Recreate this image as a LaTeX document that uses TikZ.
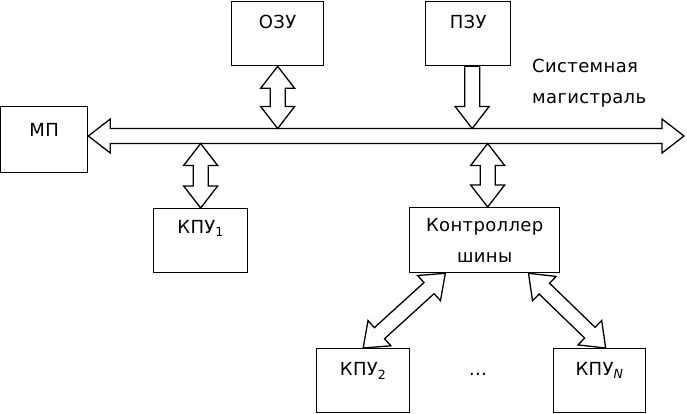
\documentclass[tikz,border=0pt]{standalone}
\usepackage{fontspec}
\setmainfont{DejaVu Sans}[LetterSpace=2]
\usepackage{tikz}
\usetikzlibrary{calc,positioning}
\newcommand{\ahl}{22pt}
\newcommand{\ahw}{17pt}
\newcommand{\asw}{7.5pt}
\tikzset{
  blk/.style={draw,line width=1.3pt,inner sep=0pt,anchor=north west,minimum width=92pt,text height=27pt,text depth=37pt,font=\fontsize{18}{31}\selectfont},
  fat/.style={draw,line width=1.3pt,fill=white,line join=miter},
  txt/.style={inner sep=0pt,font=\fontsize{18}{31}\selectfont}
}
% hollow two-headed arrow between two points
\newcommand{\dblarr}[2]{%
  \coordinate (p1) at ($(#1)!\ahl!(#2)$);
  \coordinate (p2) at ($(#2)!\ahl!(#1)$);
  \draw[fat] (#1) -- ($(p1)!\ahw!90:(#2)$) -- ($(p1)!\asw!90:(#2)$) -- ($(p2)!\asw!-90:(#1)$) -- ($(p2)!\ahw!-90:(#1)$)
    -- (#2) -- ($(p2)!\ahw!90:(#1)$) -- ($(p2)!\asw!90:(#1)$) -- ($(p1)!\asw!-90:(#2)$) -- ($(p1)!\ahw!-90:(#2)$) -- cycle;}
% hollow one-headed arrow, tip at #2
\newcommand{\onearr}[2]{%
  \coordinate (p2) at ($(#2)!\ahl!(#1)$);
  \draw[fat] ($(#1)!\asw!90:(#2)$) -- ($(p2)!\asw!-90:(#1)$) -- ($(p2)!\ahw!-90:(#1)$) -- (#2)
    -- ($(p2)!\ahw!90:(#1)$) -- ($(p2)!\asw!90:(#1)$) -- ($(#1)!\asw!-90:(#2)$) -- cycle;}

\begin{document}
\begin{tikzpicture}[x=1pt,y=-1pt]
\useasboundingbox (0,0) rectangle (687,413);
% blocks
\node[blk,minimum width=87pt,text height=30pt,text depth=36pt] (mp) at (0,106) {МП};
\node[blk] (ozu) at (231,1) {ОЗУ};
\node[blk,minimum width=85pt] (pzu) at (425,1) {ПЗУ};
\node[blk,minimum width=94pt,text height=25pt,text depth=39pt] (kpu1) at (153,208) {КПУ\textsubscript{1}};
\node[draw,line width=1.3pt,anchor=north west,minimum width=150pt,minimum height=65pt,align=center,txt] (ctrl) at (409,207) {Контроллер\\шины};
\node[blk,minimum width=93pt] (kpu2) at (316,348) {КПУ\textsubscript{2}};
\node[blk] (kpun) at (553,348) {КПУ\textsubscript{\textit{N}}};
\node[txt,anchor=base] (dots) at (478,375) {...};
\node[txt,anchor=north west,align=left] (busname) at (532,59) {Системная\\магистраль};
% system bus
\coordinate (busR) at (684,136);
\coordinate (busL) at (mp.east |- busR);
\dblarr{busL}{busR}
\coordinate (bustop) at (0,128.5);
\coordinate (busbot) at (0,143.5);
% links to the bus
\coordinate (ozu-b) at (ozu.south |- bustop);
\dblarr{ozu.south}{ozu-b}
\coordinate (pzu-t) at ([xshift=4pt]pzu.south);
\coordinate (pzu-b) at (pzu-t |- bustop);
\onearr{pzu-t}{pzu-b}
\coordinate (kpu1-b) at (kpu1.north |- busbot);
\dblarr{kpu1-b}{kpu1.north}
\coordinate (ctrl-t) at ([xshift=3pt]ctrl.north);
\coordinate (ctrl-b) at (ctrl-t |- busbot);
\dblarr{ctrl-b}{ctrl-t}
% controller to devices
\coordinate (ctrl-l) at ($(ctrl.south west)!0.24!(ctrl.south east)$);
\coordinate (ctrl-r) at ($(ctrl.south west)!0.79!(ctrl.south east)$);
\dblarr{ctrl-l}{kpu2.north}
\coordinate (kpun-t) at ([xshift=6pt]kpun.north);
\dblarr{ctrl-r}{kpun-t}
\end{tikzpicture}
\end{document}
